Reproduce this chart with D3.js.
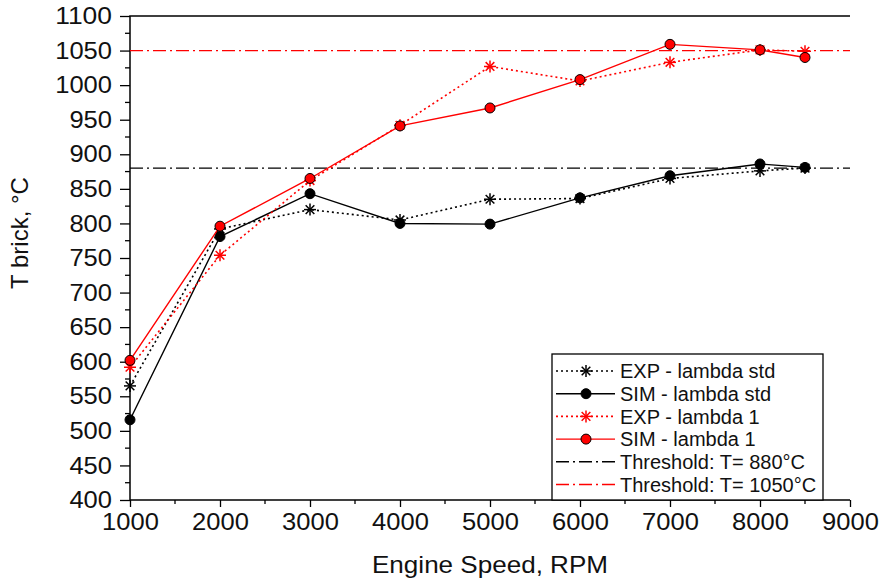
<!DOCTYPE html>
<html>
<head>
<meta charset="utf-8">
<script src="https://cdn.jsdelivr.net/npm/d3@7"></script>
<style>
  html, body { margin: 0; padding: 0; background: #fff; }
  svg { display: block; font-family: "Liberation Sans", Arial, sans-serif; }
</style>
</head>
<body>
<svg id="chart" width="885" height="582"></svg>
<script>
// Engine speed (RPM) at each measurement point
const rpm = [1000, 2000, 3000, 4000, 5000, 6000, 7000, 8000, 8500];

// Brick temperature (°C) per series
const expLambdaStd = [565, 792, 820, 805, 835, 836, 865, 876, 880];
const simLambdaStd = [516, 781, 843, 800, 799, 837, 869, 886, 881];
const expLambda1   = [592, 754, 862, 942, 1027, 1006, 1033, 1051, 1049];
const simLambda1   = [602, 796, 865, 941, 967, 1008, 1059, 1051, 1040];

// Temperature thresholds (°C)
const thresholds = [880, 1050];

// Axis ticks
const xTicks = [1000, 2000, 3000, 4000, 5000, 6000, 7000, 8000, 9000];
const yTicks = d3.range(400, 1101, 50);

const legendLabels = [
  "EXP - lambda std",
  "SIM - lambda std",
  "EXP - lambda 1",
  "SIM - lambda 1",
  "Threshold: T= 880°C",
  "Threshold: T= 1050°C"
];

const RED = "#ff0000";
const BLACK = "#000000";

const svg = d3.select("#chart");
const m = { left: 130, right: 850, top: 16, bottom: 500 };

const x = d3.scaleLinear().domain([1000, 9000]).range([m.left, m.right]);
const y = d3.scaleLinear().domain([400, 1100]).range([m.bottom, m.top]);

// Axes
const xAxis = d3.axisBottom(x).tickValues(xTicks).tickFormat(d3.format("d")).tickSize(7).tickPadding(6);
const yAxis = d3.axisLeft(y).tickValues(yTicks).tickFormat(d3.format("d")).tickSize(10).tickPadding(8);

const gx = svg.append("g").attr("transform", `translate(0,${m.bottom})`).call(xAxis);
const gy = svg.append("g").attr("transform", `translate(${m.left},0)`).call(yAxis);

// The tick labels are set slightly wide: stretch each to ~14.3px per digit
[gx, gy].forEach(g => {
  g.selectAll(".tick line").attr("stroke", BLACK).attr("stroke-width", 1.3);
  g.selectAll(".tick text")
    .attr("fill", "#111").attr("font-size", 24)
    .attr("lengthAdjust", "spacingAndGlyphs")
    .attr("textLength", function () { return this.textContent.length * 14.2; });
});
gx.select(".domain").remove();
gy.select(".domain").remove();

// Minor ticks
const xMinor = d3.range(1500, 9000, 1000);
svg.append("g").selectAll("line").data(xMinor).join("line")
  .attr("x1", d => x(d)).attr("x2", d => x(d))
  .attr("y1", m.bottom).attr("y2", m.bottom + 4)
  .attr("stroke", BLACK).attr("stroke-width", 1.3);
const yMinor = d3.range(425, 1100, 50);
svg.append("g").selectAll("line").data(yMinor).join("line")
  .attr("x1", m.left - 5).attr("x2", m.left)
  .attr("y1", d => y(d)).attr("y2", d => y(d))
  .attr("stroke", BLACK).attr("stroke-width", 1.3);

// Frame: left, bottom and top edges
svg.append("path")
  .attr("d", `M${m.right},${m.top}H${m.left}V${m.bottom}H${m.right}`)
  .attr("fill", "none").attr("stroke", BLACK).attr("stroke-width", 1.5);

// Axis titles
svg.append("text")
  .attr("x", (m.left + m.right) / 2).attr("y", 573)
  .attr("text-anchor", "middle").attr("font-size", 24).attr("fill", "#111")
  .attr("lengthAdjust", "spacingAndGlyphs").attr("textLength", 236)
  .text("Engine Speed, RPM");
svg.append("text")
  .attr("transform", "translate(28,233) rotate(-90)")
  .attr("text-anchor", "middle").attr("font-size", 24).attr("fill", "#111")
  .text("T brick, °C");

// Threshold lines
const dashDot = "13,4,2,4";
svg.append("g").selectAll("line").data(thresholds).join("line")
  .attr("x1", x(1000)).attr("x2", x(9000))
  .attr("y1", d => y(d)).attr("y2", d => y(d))
  .attr("stroke", (d, i) => i === 0 ? BLACK : RED)
  .attr("stroke-width", 1.3)
  .attr("stroke-dasharray", dashDot);

// Series definitions
const series = [
  { values: expLambdaStd, color: BLACK, dash: "2,3", marker: "star" },
  { values: simLambdaStd, color: BLACK, dash: null, marker: "circle" },
  { values: expLambda1, color: RED, dash: "2,3", marker: "star" },
  { values: simLambda1, color: RED, dash: null, marker: "circle" }
];

const line = d3.line().x(d => x(d[0])).y(d => y(d[1]));

function drawStar(g, cx, cy, r, color) {
  const arms = [[r, 0], [0, r], [r * 0.72, r * 0.72], [r * 0.72, -r * 0.72]];
  arms.forEach(([dx, dy]) => {
    g.append("line")
      .attr("x1", cx - dx).attr("y1", cy - dy)
      .attr("x2", cx + dx).attr("y2", cy + dy)
      .attr("stroke", color).attr("stroke-width", 1.5);
  });
}
function drawCircle(g, cx, cy, color) {
  g.append("circle").attr("cx", cx).attr("cy", cy).attr("r", 5)
    .attr("fill", color).attr("stroke", BLACK).attr("stroke-width", 1);
}

series.forEach(s => {
  const pts = rpm.map((r, i) => [r, s.values[i]]);
  svg.append("path").datum(pts)
    .attr("d", line)
    .attr("fill", "none")
    .attr("stroke", s.color)
    .attr("stroke-width", s.dash ? 1.6 : 1.4)
    .attr("stroke-dasharray", s.dash);
  const g = svg.append("g");
  pts.forEach(p => {
    if (s.marker === "star") drawStar(g, x(p[0]), y(p[1]), 6, s.color);
    else drawCircle(g, x(p[0]), y(p[1]), s.color);
  });
});

// Legend
const lg = svg.append("g");
lg.append("rect")
  .attr("x", 552).attr("y", 354).attr("width", 271).attr("height", 146)
  .attr("fill", "#fff").attr("stroke", BLACK).attr("stroke-width", 1.3);

const legendItems = [
  { color: BLACK, dash: "2,3", marker: "star" },
  { color: BLACK, dash: null, marker: "circle" },
  { color: RED, dash: "2,3", marker: "star" },
  { color: RED, dash: null, marker: "circle" },
  { color: BLACK, dash: "13,4,2,4", marker: null },
  { color: RED, dash: "13,4,2,4", marker: null }
];

legendItems.forEach((it, i) => {
  const cy = 371 + i * 22.7;
  lg.append("line")
    .attr("x1", 556).attr("x2", 615).attr("y1", cy).attr("y2", cy)
    .attr("stroke", it.color).attr("stroke-width", it.dash === "2,3" ? 1.6 : 1.4)
    .attr("stroke-dasharray", it.dash);
  if (it.marker === "star") drawStar(lg, 586, cy, 6, it.color);
  if (it.marker === "circle") drawCircle(lg, 586, cy, it.color);
  lg.append("text")
    .attr("x", 620).attr("y", cy).attr("dy", "0.36em")
    .attr("font-size", 20).attr("fill", "#111")
    .text(legendLabels[i]);
});
</script>
</body>
</html>
